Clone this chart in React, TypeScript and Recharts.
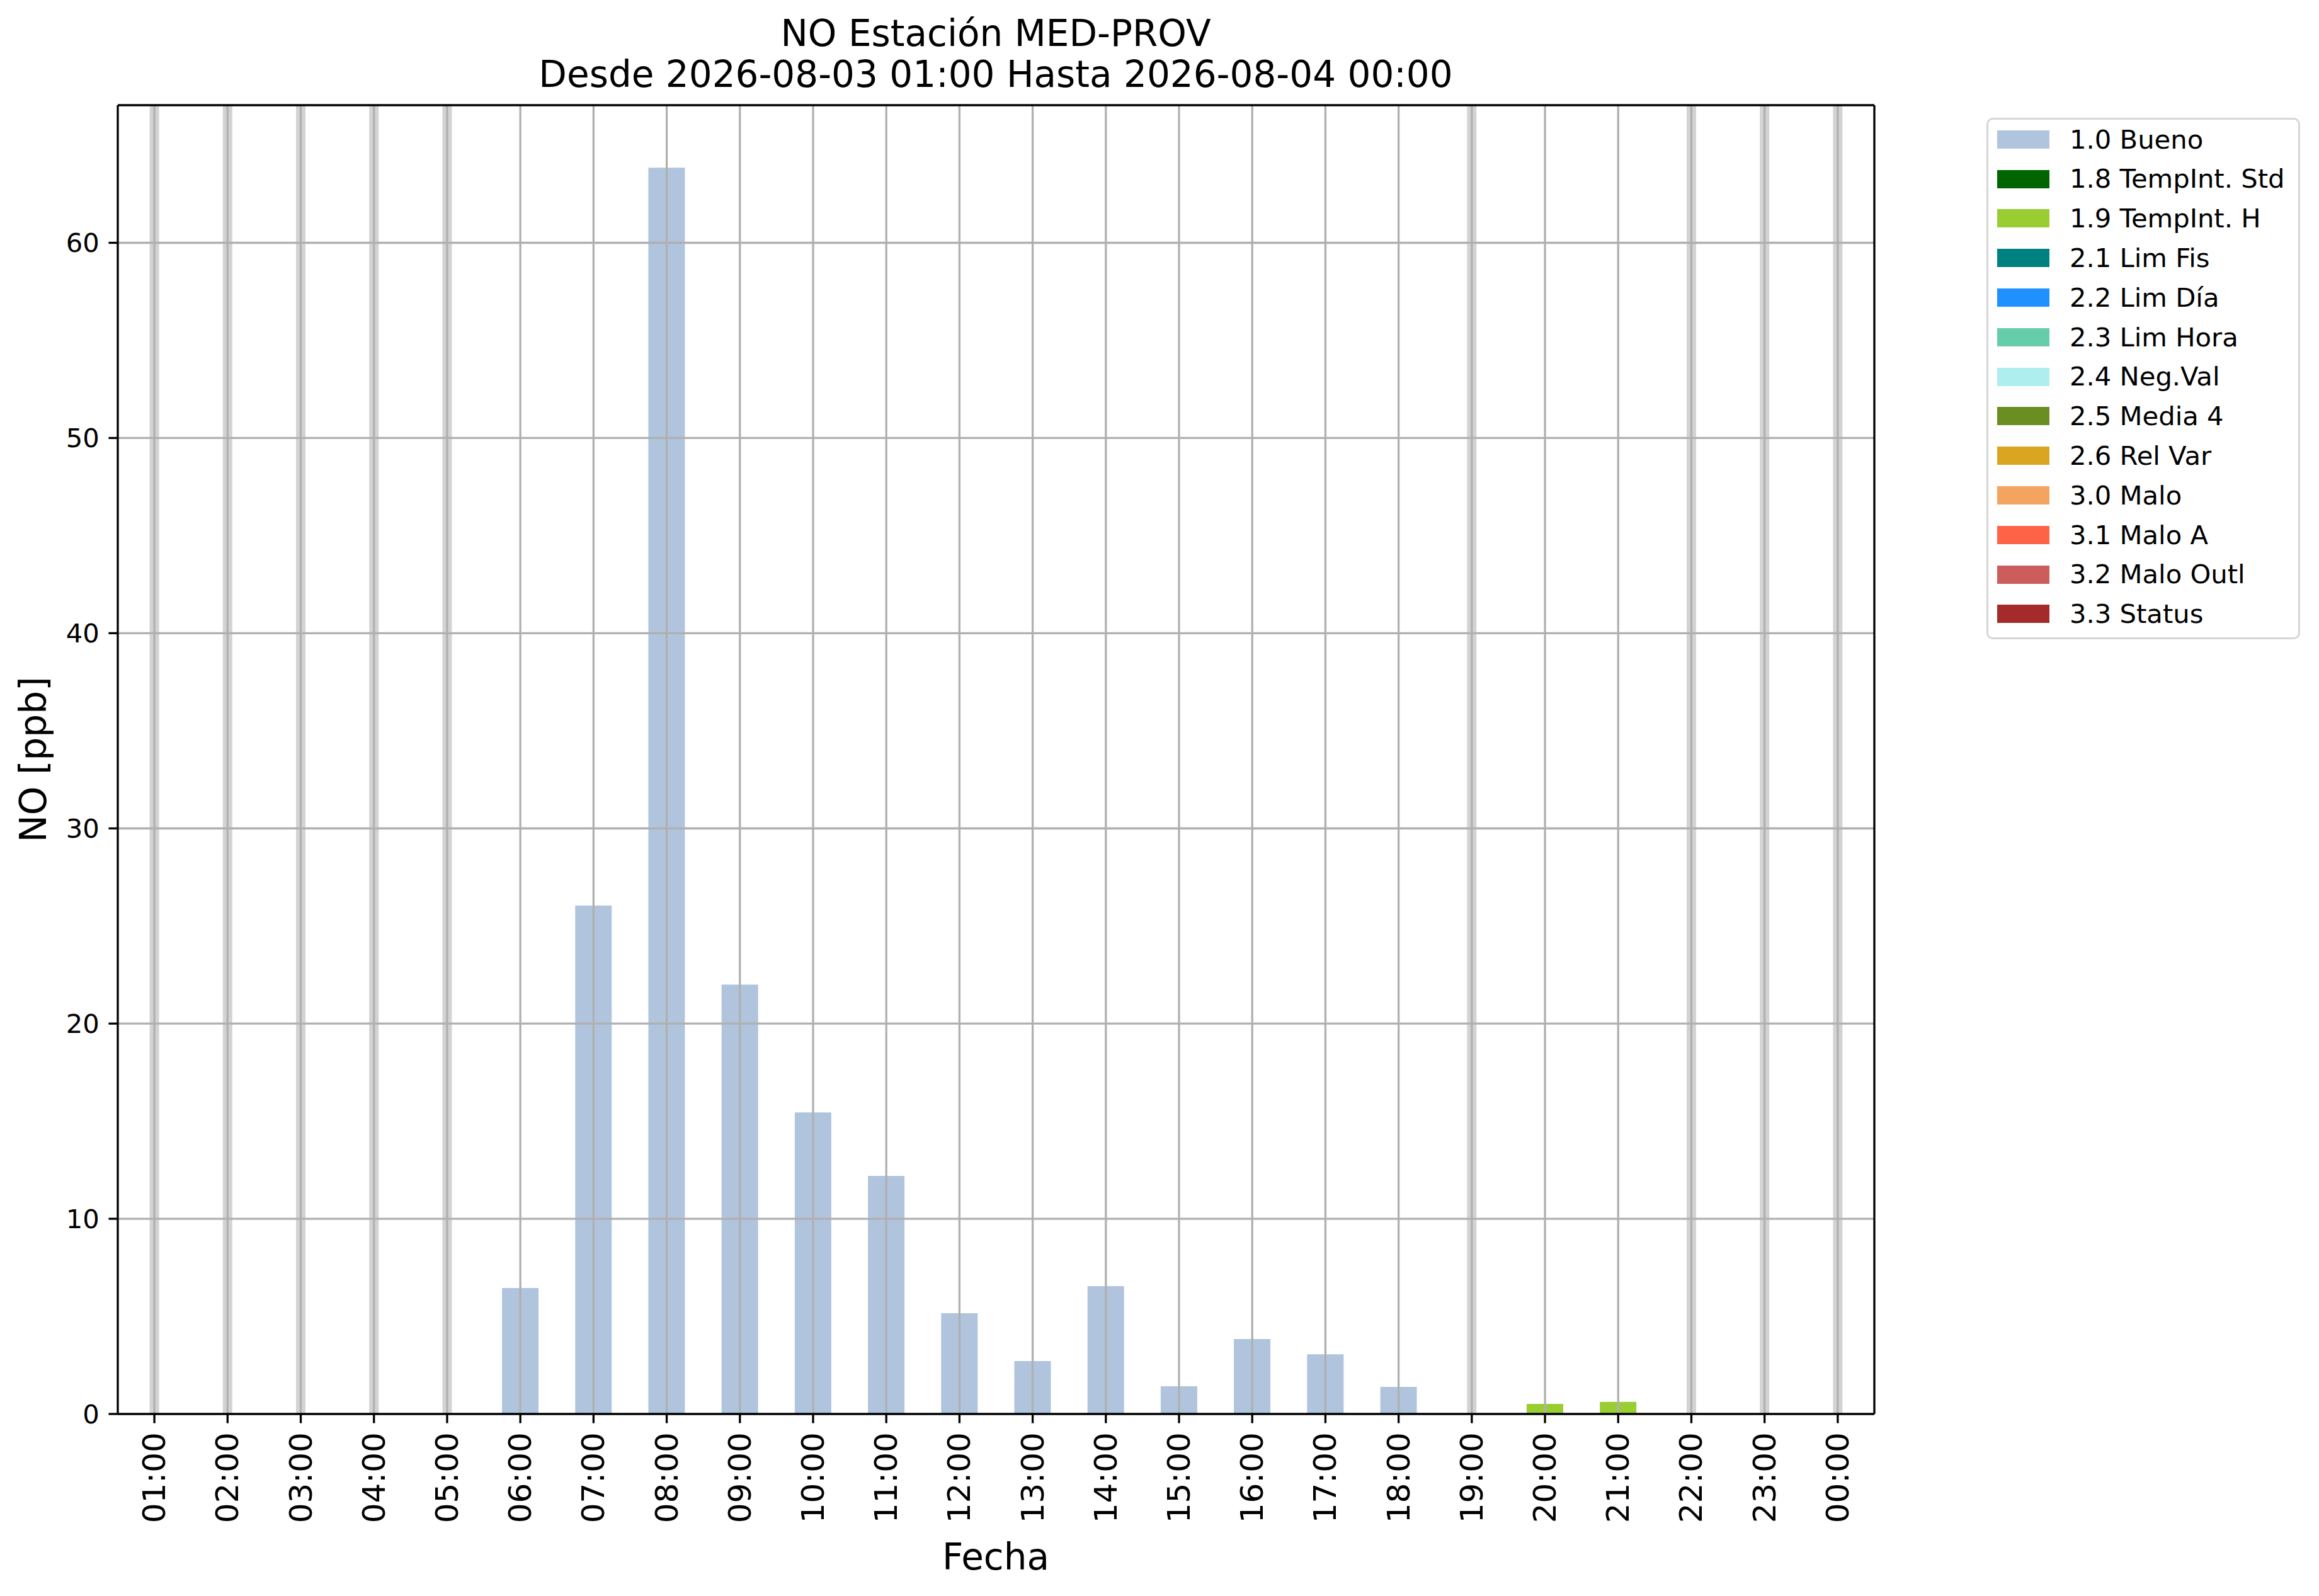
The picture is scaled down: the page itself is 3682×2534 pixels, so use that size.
import React from 'react';
import { ComposedChart, Bar, XAxis, YAxis, ReferenceLine, Legend } from 'recharts';

const FONT = '"DejaVu Sans", Verdana, sans-serif';

const hours = [
  '01:00', '02:00', '03:00', '04:00', '05:00', '06:00', '07:00', '08:00',
  '09:00', '10:00', '11:00', '12:00', '13:00', '14:00', '15:00', '16:00',
  '17:00', '18:00', '19:00', '20:00', '21:00', '22:00', '23:00', '00:00',
];

const buenoValues = [
  null, null, null, null, null, 6.45, 26.05, 63.85,
  22.0, 15.45, 12.2, 5.16, 2.71, 6.55, 1.42, 3.84,
  3.06, 1.39, null, null, null, null, null, null,
];

const tempIntHValues = [
  null, null, null, null, null, null, null, null,
  null, null, null, null, null, null, null, null,
  null, null, null, 0.52, 0.62, null, null, null,
];

const missingHours = ['01:00', '02:00', '03:00', '04:00', '05:00', '19:00', '22:00', '23:00', '00:00'];

const yTicks = [0, 10, 20, 30, 40, 50, 60];
const yGridTicks = [10, 20, 30, 40, 50, 60];

const flagKeys = ['f10', 'f18', 'f19', 'f21', 'f22', 'f23', 'f24', 'f25', 'f26', 'f30', 'f31', 'f32', 'f33'];
const flagLabels = [
  '1.0 Bueno', '1.8 TempInt. Std', '1.9 TempInt. H', '2.1 Lim Fis', '2.2 Lim Día',
  '2.3 Lim Hora', '2.4 Neg.Val', '2.5 Media 4', '2.6 Rel Var', '3.0 Malo',
  '3.1 Malo A', '3.2 Malo Outl', '3.3 Status',
];
const flagColors = [
  '#b0c4de', '#006400', '#9acd32', '#008080', '#1e90ff',
  '#66cdaa', '#afeeee', '#6b8e23', '#daa520', '#f4a460',
  '#ff6347', '#cd5c5c', '#a52a2a',
];

const data = hours.map((h, i) => ({
  hour: h,
  f10: buenoValues[i],
  f19: tempIntHValues[i],
}));

const XTick = (props: any) => {
  const { x, y, payload } = props;
  return (
    <text
      x={x}
      y={y}
      transform={`rotate(-90 ${x} ${y})`}
      textAnchor="end"
      dominantBaseline="central"
      fontSize={50}
      fontFamily={FONT}
      fill="#000"
    >
      {payload.value}
    </text>
  );
};

const LegendBox = (props: any) => {
  const payload = props.payload || [];
  return (
    <div
      style={{
        boxSizing: 'border-box',
        width: 498,
        height: 828,
        border: '3px solid #d6d6d6',
        borderRadius: 10,
        background: '#fff',
        fontFamily: FONT,
      }}
    >
      {payload.map((e: any, i: number) => (
        <div key={i} style={{ display: 'flex', alignItems: 'center', height: 62.8 }}>
          <div style={{ marginLeft: 14, width: 83, height: 29, background: e.color, flex: 'none' }} />
          <span
            style={{
              marginLeft: 32,
              fontSize: 41.7,
              lineHeight: 1,
              color: '#000',
              whiteSpace: 'nowrap',
            }}
          >
            {e.value}
          </span>
        </div>
      ))}
    </div>
  );
};

export default function App() {
  return (
    <div style={{ position: 'absolute', left: 0, top: 0, width: 3682, height: 2534, background: '#fff', fontFamily: FONT }}>
      <ComposedChart
        width={3682}
        height={2534}
        data={data}
        margin={{ top: 166, right: 705, bottom: 89, left: 37 }}
      >
        <XAxis
          dataKey="hour"
          type="category"
          interval={0}
          height={200}
          tickSize={14.6}
          tickMargin={14.6}
          tick={<XTick />}
          axisLine={{ stroke: '#000', strokeWidth: 3.3 }}
          tickLine={{ stroke: '#000', strokeWidth: 3.3 }}
        />
        <XAxis
          xAxisId="top"
          dataKey="hour"
          type="category"
          orientation="top"
          height={1}
          tick={false}
          tickLine={false}
          axisLine={{ stroke: '#000', strokeWidth: 3.3 }}
        />
        <YAxis
          type="number"
          domain={[0, 67.05]}
          ticks={yTicks}
          width={150}
          tickSize={14.6}
          tickMargin={14.6}
          tick={{ fontSize: 41.7, fill: '#000', fontFamily: FONT }}
          axisLine={{ stroke: '#000', strokeWidth: 3.3 }}
          tickLine={{ stroke: '#000', strokeWidth: 3.3 }}
        />
        <YAxis
          yAxisId="right"
          orientation="right"
          type="number"
          domain={[0, 67.05]}
          width={1}
          tick={false}
          tickLine={false}
          axisLine={{ stroke: '#000', strokeWidth: 3.3 }}
        />
        <Legend
          layout="vertical"
          align="center"
          verticalAlign="middle"
          content={<LegendBox />}
          wrapperStyle={{ left: 3154, top: 187, width: 498, height: 828 }}
        />
        {flagKeys.map((k, i) => (
          <Bar
            key={k}
            dataKey={k}
            name={flagLabels[i]}
            stackId="a"
            fill={flagColors[i]}
            barSize={58}
            isAnimationActive={false}
          />
        ))}
        {missingHours.map((h) => (
          <ReferenceLine key={'m' + h} x={h} stroke="#d3d3d3" strokeWidth={15} />
        ))}
        {hours.map((h) => (
          <ReferenceLine key={'gx' + h} x={h} stroke="#b0b0b0" strokeWidth={3.3} />
        ))}
        {yGridTicks.map((v) => (
          <ReferenceLine key={'gy' + v} y={v} stroke="#b0b0b0" strokeWidth={3.3} />
        ))}
      </ComposedChart>
      <svg
        width={3682}
        height={2534}
        style={{ position: 'absolute', left: 0, top: 0, pointerEvents: 'none' }}
      >
        <text x={1581} y={73} textAnchor="middle" fontSize={58} fontFamily={FONT} fill="#000">
          NO Estación MED-PROV
        </text>
        <text x={1581} y={138} textAnchor="middle" fontSize={58} fontFamily={FONT} fill="#000">
          Desde 2026-08-03 01:00 Hasta 2026-08-04 00:00
        </text>
        <text x={1581} y={2492} textAnchor="middle" fontSize={58} fontFamily={FONT} fill="#000">
          Fecha
        </text>
        <text
          x={53}
          y={1206}
          transform="rotate(-90 53 1206)"
          textAnchor="middle"
          dominantBaseline="central"
          fontSize={58}
          fontFamily={FONT}
          fill="#000"
        >
          NO [ppb]
        </text>
      </svg>
    </div>
  );
}
